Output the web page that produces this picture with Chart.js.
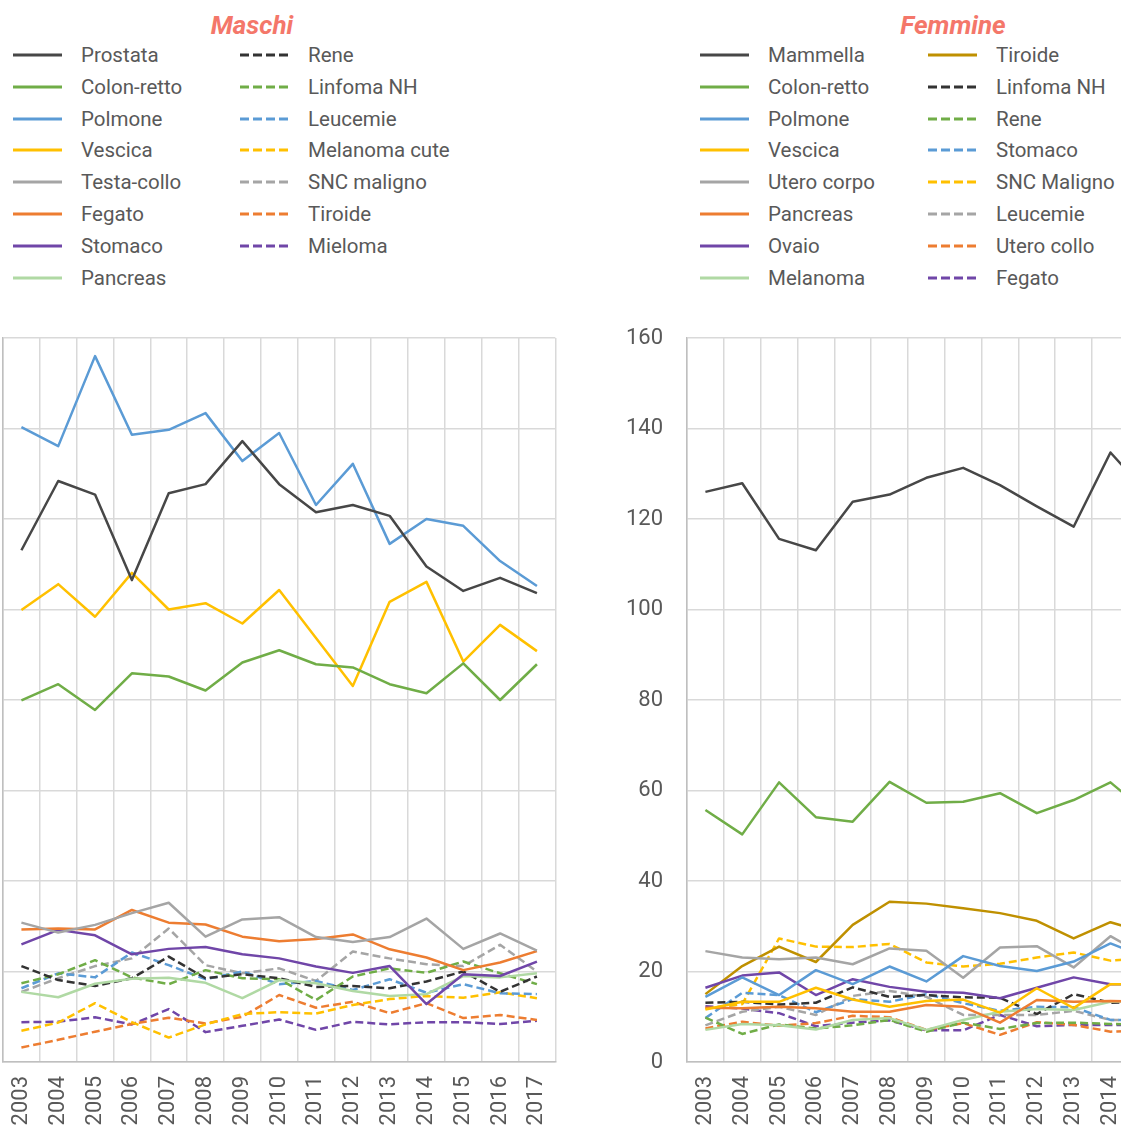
<!DOCTYPE html>
<html>
<head>
<meta charset="utf-8">
<script src="https://cdn.jsdelivr.net/npm/chart.js@4.4.1/dist/chart.umd.min.js"></script>
<style>
  html, body { margin: 0; padding: 0; background: #fff; overflow: hidden; width: 1121px; height: 1130px; }
  body { position: relative; font-family: Roboto, sans-serif; }
  .title { position: absolute; top: 10px; line-height: 30px; font: italic bold 26px Roboto, sans-serif; color: #F4776A; transform: translateX(-50%); white-space: nowrap; }
  .legend { position: absolute; top: 0; left: 0; }
  .item { position: absolute; height: 32px; line-height: 32px; font-size: 20.5px; color: #595959; white-space: nowrap; }
  .item svg { position: absolute; left: 0; top: 14px; }
  .item span { position: absolute; left: 68px; top: 0; }
  canvas { position: absolute; }
</style>
</head>
<body>
<div class="title" style="left:252px">Maschi</div>
<div class="title" style="left:953px">Femmine</div>
<div id="legendM" class="legend"></div>
<div id="legendF" class="legend"></div>
<canvas id="chartM" width="655" height="862" style="left:-77px; top:300px"></canvas>
<canvas id="chartF" width="655" height="862" style="left:607px; top:300px"></canvas>

<script>
const years = ['2003', '2004', '2005', '2006', '2007', '2008', '2009', '2010', '2011', '2012', '2013', '2014', '2015', '2016', '2017'];
const yTicks = [0, 20, 40, 60, 80, 100, 120, 140, 160];

// Maschi
const prostata   = [113.1, 128.4, 125.4, 106.5, 125.7, 127.7, 137.2, 127.7, 121.5, 123.1, 120.7, 109.5, 104.1, 107.0, 103.6];
const colonM     = [79.9, 83.5, 77.8, 85.9, 85.2, 82.1, 88.3, 91.0, 87.9, 87.2, 83.5, 81.5, 88.1, 80.0, 87.9];
const polmoneM   = [140.3, 136.1, 156.0, 138.6, 139.7, 143.4, 132.8, 139.0, 123.1, 132.2, 114.5, 120.0, 118.5, 110.7, 105.2];
const vescicaM   = [99.9, 105.6, 98.4, 108.1, 100.0, 101.4, 96.9, 104.3, 93.7, 83.1, 101.7, 106.1, 88.5, 96.6, 90.8];
const testaCollo = [30.8, 28.6, 30.3, 32.9, 35.2, 27.7, 31.5, 32.0, 27.6, 26.5, 27.6, 31.7, 25.0, 28.4, 24.6];
const fegatoM    = [29.3, 29.5, 29.3, 33.6, 30.8, 30.4, 27.7, 26.7, 27.2, 28.2, 24.9, 23.1, 20.3, 22.0, 24.5];
const stomacoM   = [26.0, 29.2, 28.0, 23.8, 25.0, 25.4, 23.8, 22.9, 21.1, 19.7, 21.2, 12.8, 19.4, 19.0, 22.2];
const pancreasM  = [15.5, 14.3, 17.3, 18.4, 18.6, 17.5, 14.1, 18.1, 17.4, 15.7, 14.6, 15.0, 19.0, 18.7, 19.6];
const reneM      = [21.2, 18.1, 16.8, 18.5, 23.3, 18.5, 19.4, 18.5, 16.6, 16.8, 16.3, 17.8, 20.0, 15.5, 18.9];
const linfomaM   = [17.4, 19.4, 22.5, 18.7, 17.2, 20.3, 18.5, 18.3, 13.7, 18.9, 20.7, 19.7, 22.2, 19.6, 17.2];
const leucemieM  = [16.3, 19.6, 18.7, 24.2, 21.4, 18.3, 20.0, 17.2, 17.9, 15.9, 18.3, 15.3, 17.2, 15.2, 15.0];
const melanomaM  = [6.9, 8.7, 13.0, 8.8, 5.4, 8.3, 10.6, 11.0, 10.7, 12.6, 13.9, 14.6, 14.2, 15.4, 14.1];
const sncM       = [15.5, 18.5, 21.2, 22.9, 29.5, 21.4, 19.6, 20.7, 17.9, 24.4, 22.9, 21.6, 21.2, 25.9, 20.0];
const tiroideM   = [3.2, 4.9, 6.7, 8.4, 9.8, 8.5, 10.0, 14.8, 12.0, 13.3, 10.8, 13.0, 9.7, 10.4, 9.3];
const mielomaM   = [8.8, 8.9, 9.9, 8.3, 11.7, 6.6, 8.0, 9.4, 7.1, 8.9, 8.3, 8.8, 8.8, 8.4, 9.1];

// Femmine (2016-2017 fuori dall'immagine)
const mammella   = [126.0, 127.9, 115.6, 113.1, 123.8, 125.4, 129.1, 131.3, 127.5, 122.8, 118.3, 134.7, 125.7, null, null];
const colonF     = [55.7, 50.3, 61.8, 54.1, 53.1, 61.9, 57.3, 57.5, 59.4, 55.0, 57.9, 61.8, 55.0, null, null];
const polmoneF   = [14.4, 18.7, 14.8, 20.3, 17.2, 21.1, 17.8, 23.4, 21.2, 20.1, 22.2, 26.2, 23.0, null, null];
const vescicaF   = [11.6, 13.3, 13.3, 16.4, 13.8, 12.2, 13.5, 13.8, 10.9, 16.3, 11.9, 17.2, 17.2, null, null];
const uteroCorpo = [24.5, 23.1, 22.7, 23.1, 21.6, 25.1, 24.6, 18.6, 25.3, 25.6, 20.9, 27.8, 23.2, null, null];
const pancreasF  = [12.0, 11.9, 12.2, 11.9, 11.1, 11.1, 12.6, 12.2, 8.7, 13.7, 13.3, 13.5, 13.3, null, null];
const ovaio      = [16.4, 19.1, 19.8, 14.8, 18.3, 16.6, 15.5, 15.3, 14.1, 16.4, 18.7, 17.2, 17.2, null, null];
const melanomaF  = [7.1, 8.4, 8.1, 7.2, 9.3, 9.7, 7.1, 9.3, 11.1, 11.7, 11.5, 13.3, 13.5, null, null];
const tiroideF   = [15.0, 21.2, 25.5, 22.1, 30.3, 35.4, 35.0, 34.0, 32.9, 31.2, 27.3, 30.9, 28.5, null, null];
const linfomaF   = [13.1, 13.3, 12.7, 13.1, 16.5, 14.4, 14.8, 14.3, 14.2, 10.6, 15.0, 13.1, 13.3, null, null];
const reneF      = [9.8, 6.2, 8.3, 7.4, 8.1, 9.3, 6.7, 8.7, 7.3, 8.6, 8.7, 8.4, 8.3, null, null];
const stomacoF   = [9.7, 15.3, 14.8, 11.0, 13.9, 13.3, 15.0, 13.0, 11.3, 12.2, 12.1, 9.3, 9.2, null, null];
const sncF       = [11.8, 12.8, 27.3, 25.5, 25.4, 26.1, 22.0, 21.1, 21.7, 23.1, 24.2, 22.4, 23.0, null, null];
const leucemieF  = [8.1, 11.1, 12.2, 10.4, 14.6, 15.7, 14.4, 10.4, 10.4, 10.4, 11.3, 9.3, 9.3, null, null];
const uteroCollo = [7.4, 8.9, 8.0, 8.6, 10.2, 9.9, 7.1, 8.6, 6.0, 8.8, 8.2, 6.7, 7.0, null, null];
const fegatoF    = [12.3, 11.8, 10.8, 7.9, 8.7, 9.2, 7.0, 7.0, 10.4, 7.9, 8.2, 8.2, 8.2, null, null];

const DARK = '#474747', GREEN = '#70AD47', BLUE = '#5B9BD5', GOLD = '#FFC000', GRAY = '#A5A5A5',
      ORANGE = '#ED7D31', PURPLE = '#7046A8', LIGHTGREEN = '#B0D9A4', DARKGOLD = '#BF9000';

const seriesM = [
  { label: 'Prostata', data: prostata, color: DARK },
  { label: 'Colon-retto', data: colonM, color: GREEN },
  { label: 'Polmone', data: polmoneM, color: BLUE },
  { label: 'Vescica', data: vescicaM, color: GOLD },
  { label: 'Testa-collo', data: testaCollo, color: GRAY },
  { label: 'Fegato', data: fegatoM, color: ORANGE },
  { label: 'Stomaco', data: stomacoM, color: PURPLE },
  { label: 'Pancreas', data: pancreasM, color: LIGHTGREEN },
  { label: 'Rene', data: reneM, color: '#333333', dashed: true },
  { label: 'Linfoma NH', data: linfomaM, color: GREEN, dashed: true },
  { label: 'Leucemie', data: leucemieM, color: BLUE, dashed: true },
  { label: 'Melanoma cute', data: melanomaM, color: GOLD, dashed: true },
  { label: 'SNC maligno', data: sncM, color: GRAY, dashed: true },
  { label: 'Tiroide', data: tiroideM, color: ORANGE, dashed: true },
  { label: 'Mieloma', data: mielomaM, color: PURPLE, dashed: true }
];

const seriesF = [
  { label: 'Mammella', data: mammella, color: DARK },
  { label: 'Colon-retto', data: colonF, color: GREEN },
  { label: 'Polmone', data: polmoneF, color: BLUE },
  { label: 'Vescica', data: vescicaF, color: GOLD },
  { label: 'Utero corpo', data: uteroCorpo, color: GRAY },
  { label: 'Pancreas', data: pancreasF, color: ORANGE },
  { label: 'Ovaio', data: ovaio, color: PURPLE },
  { label: 'Melanoma', data: melanomaF, color: LIGHTGREEN },
  { label: 'Tiroide', data: tiroideF, color: DARKGOLD },
  { label: 'Linfoma NH', data: linfomaF, color: '#333333', dashed: true },
  { label: 'Rene', data: reneF, color: GREEN, dashed: true },
  { label: 'Stomaco', data: stomacoF, color: BLUE, dashed: true },
  { label: 'SNC Maligno', data: sncF, color: GOLD, dashed: true },
  { label: 'Leucemie', data: leucemieF, color: GRAY, dashed: true },
  { label: 'Utero collo', data: uteroCollo, color: ORANGE, dashed: true },
  { label: 'Fegato', data: fegatoF, color: PURPLE, dashed: true }
];

// legenda in due colonne, 8 voci per colonna
function buildLegend(id, series, left, colWidth) {
  const box = document.getElementById(id);
  series.forEach((s, i) => {
    const col = Math.floor(i / 8);
    const row = i % 8;
    const item = document.createElement('div');
    item.className = 'item';
    item.style.left = (left + col * colWidth) + 'px';
    item.style.top = (55 + row * 31.8 - 16) + 'px';
    const dash = s.dashed ? ' stroke-dasharray="9 4"' : '';
    item.innerHTML = `<svg width="49" height="4"><line x1="0" y1="2" x2="49" y2="2" stroke="${s.color}" stroke-width="3"${dash}/></svg><span>${s.label}</span>`;
    box.appendChild(item);
  });
}

function makeChart(canvasId, series) {
  const ctx = document.getElementById(canvasId).getContext('2d');
  return new Chart(ctx, {
    type: 'line',
    data: {
      labels: years,
      datasets: series.map(s => ({
        label: s.label,
        data: s.data,
        borderColor: s.color,
        borderWidth: 2.5,
        borderDash: s.dashed ? [8, 4] : [],
        borderJoinStyle: 'round',
        pointRadius: 0,
        tension: 0,
        fill: false
      }))
    },
    options: {
      responsive: false,
      animation: false,
      devicePixelRatio: 1,
      layout: { padding: { top: 38, right: 20, bottom: 0, left: 0 } },
      plugins: { legend: { display: false }, tooltip: { enabled: false } },
      scales: {
        x: {
          offset: true,
          grid: { offset: true, color: '#D9D9D9', lineWidth: 1.5, drawTicks: false },
          border: { color: '#BFBFBF', width: 1.5 },
          ticks: {
            autoSkip: false, minRotation: 90, maxRotation: 90, padding: 14,
            color: '#595959', font: { family: 'Roboto', size: 22 }
          },
          afterFit: scale => { scale.height = 100; }
        },
        y: {
          min: 0, max: 160,
          afterBuildTicks: scale => { scale.ticks = yTicks.map(v => ({ value: v })); },
          grid: { color: '#D9D9D9', lineWidth: 1.5, drawTicks: false },
          border: { color: '#BFBFBF', width: 1.5 },
          ticks: { padding: 24, color: '#595959', font: { family: 'Roboto', size: 22 } },
          afterFit: scale => { scale.width = 80; }
        }
      }
    }
  });
}

buildLegend('legendM', seriesM, 13, 227);
buildLegend('legendF', seriesF, 700, 228);
makeChart('chartM', seriesM);
makeChart('chartF', seriesF);
</script>
</body>
</html>
